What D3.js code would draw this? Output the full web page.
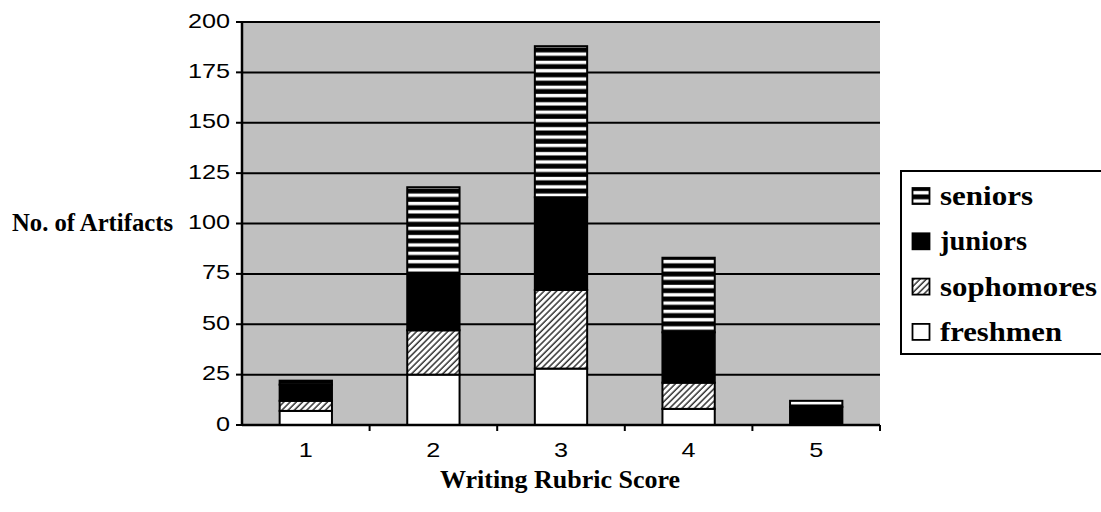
<!DOCTYPE html>
<html><head><meta charset="utf-8">
<script src="https://cdn.jsdelivr.net/npm/d3@7"></script>
<style>body{margin:0;background:#fff}svg{display:block}</style>
</head><body>
<svg id="c" width="1101" height="512"></svg>
<script>
const categories = ["1","2","3","4","5"];
const seriesNames = ["freshmen","sophomores","juniors","seniors"];
const freshmen   = [7, 25, 28, 8, 0];
const sophomores = [5, 22, 39, 13, 0];
const juniors    = [8, 28, 46, 25, 9];
const seniors    = [2, 43, 75, 37, 3];
const yTicks = [0,25,50,75,100,125,150,175,200];
const legendOrder = ["seniors","juniors","sophomores","freshmen"];
const yTitle = "No. of Artifacts";
const xTitle = "Writing Rubric Score";

const svg = d3.select("#c");
const L = 242, R = 880, T = 22, B = 425;
const serif = "'Liberation Serif','Times New Roman',serif";
const sans = "'Liberation Sans',Arial,sans-serif";
const SX = 1.2;
function stretch(sel, w){
  sel.each(function(){
    const l = this.getComputedTextLength();
    d3.select(this).attr("textLength", w != null ? w : l*SX).attr("lengthAdjust","spacingAndGlyphs");
  });
}

const table = categories.map((c,i)=>({cat:c, freshmen:freshmen[i], sophomores:sophomores[i], juniors:juniors[i], seniors:seniors[i]}));
const stack = d3.stack().keys(seriesNames)(table);

const x = d3.scaleBand().domain(categories).range([L,R]).paddingInner(0.59).paddingOuter(0.295);
const y = d3.scaleLinear().domain([0,200]).range([B,T]);
const step = x.step();

// patterns
const defs = svg.append("defs");
const ps = defs.append("pattern").attr("id","pSen").attr("patternUnits","userSpaceOnUse").attr("width",8).attr("height",8.3);
ps.append("rect").attr("width",8).attr("height",8.3).attr("fill","#000");
ps.append("rect").attr("y",2.6).attr("width",8).attr("height",3.4).attr("fill","#fff");
const ph = defs.append("pattern").attr("id","pSoph").attr("patternUnits","userSpaceOnUse").attr("width",4.4).attr("height",10).attr("patternTransform","rotate(45)");
ph.append("rect").attr("width",4.4).attr("height",10).attr("fill","#fff");
ph.append("line").attr("x1",1).attr("x2",1).attr("y1",0).attr("y2",10).attr("stroke","#333").attr("stroke-width",1.5);
const fills = {freshmen:"#fff", sophomores:"url(#pSoph)", juniors:"#000", seniors:"url(#pSen)"};

// plot bg
svg.append("rect").attr("x",L).attr("y",T).attr("width",R-L).attr("height",B-T).attr("fill","#c0c0c0");
// gridlines
svg.append("g").selectAll("line").data(yTicks.filter(d=>d>0)).join("line")
  .attr("x1",L).attr("x2",R).attr("y1",d=>y(d)).attr("y2",d=>y(d)).attr("stroke","#000").attr("stroke-width",2);

// bars
stack.forEach(s=>{
  svg.append("g").selectAll("rect").data(s.filter(d=>d[1]-d[0]>0)).join("rect")
    .attr("x",d=>x(d.data.cat)).attr("width",x.bandwidth())
    .attr("y",d=>y(d[1])).attr("height",d=>y(d[0])-y(d[1]))
    .attr("fill",fills[s.key]).attr("stroke","#000").attr("stroke-width",2);
});

// axes
svg.append("line").attr("x1",L).attr("x2",L).attr("y1",T).attr("y2",B+1).attr("stroke","#000").attr("stroke-width",2.5);
svg.append("line").attr("x1",L).attr("x2",R).attr("y1",B).attr("y2",B).attr("stroke","#000").attr("stroke-width",2.5);
svg.append("g").selectAll("line").data(yTicks).join("line")
  .attr("x1",L-6).attr("x2",L).attr("y1",d=>y(d)).attr("y2",d=>y(d)).attr("stroke","#000").attr("stroke-width",2);
const yl = svg.append("g").selectAll("text").data(yTicks).join("text")
  .attr("x",L-12).attr("y",d=>y(d)+5.5).attr("text-anchor","end")
  .attr("font-family",sans).attr("font-size",21).text(d=>d);
stretch(yl, null);
svg.append("g").selectAll("line").data(categories).join("line")
  .attr("x1",d=>x(d)+x.bandwidth()/2+step/2).attr("x2",d=>x(d)+x.bandwidth()/2+step/2)
  .attr("y1",B).attr("y2",B+6).attr("stroke","#000").attr("stroke-width",2);
const xl = svg.append("g").selectAll("text").data(categories).join("text")
  .attr("x",d=>x(d)+x.bandwidth()/2).attr("y",457).attr("text-anchor","middle")
  .attr("font-family",sans).attr("font-size",21).text(d=>d);
stretch(xl);

// titles
const yt = svg.append("text").attr("x",12).attr("y",231).attr("font-family",serif).attr("font-weight","bold").attr("font-size",25).text(yTitle);
stretch(yt,161);
const xt = svg.append("text").attr("x",560).attr("y",488).attr("text-anchor","middle").attr("font-family",serif).attr("font-weight","bold").attr("font-size",25).text(xTitle);
stretch(xt,240);

// legend
svg.append("rect").attr("x",901).attr("y",171).attr("width",230).attr("height",183).attr("fill","#fff").attr("stroke","#000").attr("stroke-width",2);
const legW = {seniors:93, juniors:87, sophomores:157, freshmen:122};
const lg = svg.append("g").selectAll("g").data(legendOrder).join("g")
  .attr("transform",(d,i)=>`translate(0,${205+i*45.3})`);
lg.append("rect").attr("x",912.5).attr("y",-17).attr("width",17).attr("height",16)
  .attr("fill",d=>fills[d]).attr("stroke","#000").attr("stroke-width",1.8);
lg.append("text").attr("x",940).attr("y",0).attr("font-family",serif).attr("font-weight","bold").attr("font-size",27)
  .text(d=>d).each(function(d){ d3.select(this).call(stretch, legW[d]); });
</script>
</body></html>
